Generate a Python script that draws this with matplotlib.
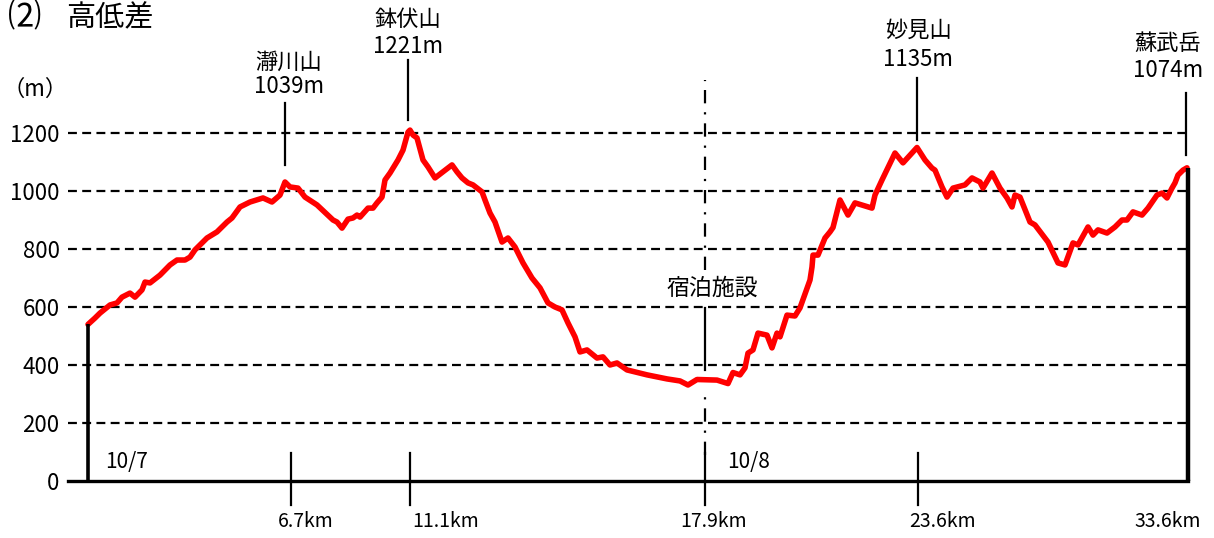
import matplotlib
matplotlib.use("Agg")
import matplotlib.pyplot as plt

plt.rcParams['font.family'] = ['Noto Sans CJK JP', 'DejaVu Sans']

# ---- data (position along chart axis, elevation in m) ----
track_pos = [
    0, 7, 12, 22, 29, 34, 42, 47, 54, 57,
    62, 72, 82, 89, 97, 102, 107, 112, 119, 129,
    139, 144, 152, 162, 175, 184, 192, 197, 200, 202,
    210, 217, 229, 245, 249, 254, 260, 265, 269, 272,
    280, 285, 289, 294, 297, 302, 310, 315, 320, 322,
    325, 329, 335, 340, 347, 355, 364, 369, 374, 380,
    385, 394, 397, 402, 407, 414, 420, 427, 435, 444,
    452, 460, 467, 474, 480, 487, 492, 499, 509, 515,
    522, 529, 539, 559, 579, 592, 600, 609, 629, 640,
    645, 652, 657, 660, 665, 670, 679, 684, 689, 692,
    699, 707, 712, 719, 722, 724, 725, 730, 737, 742,
    745, 752, 760, 767, 784, 787, 794, 807, 815, 829,
    837, 844, 847, 854, 859, 865, 877, 884, 892, 895,
    904, 912, 919, 924, 927, 932, 942, 947, 960, 970,
    977, 985, 990, 1000, 1005, 1010, 1019, 1027, 1034, 1039,
    1045, 1054, 1060, 1069, 1074, 1079, 1084, 1087, 1090, 1095,
    1099,
]
track_elev = [
    540, 562, 579, 607, 614, 634, 648, 634, 659, 686,
    683, 710, 745, 762, 762, 772, 797, 814, 838, 859,
    893, 907, 945, 962, 976, 962, 986, 1031, 1021, 1014,
    1010, 979, 952, 900, 893, 872, 903, 907, 917, 910,
    941, 941, 959, 979, 1038, 1062, 1107, 1141, 1203, 1210,
    1193, 1183, 1107, 1083, 1045, 1066, 1090, 1066, 1045, 1028,
    1021, 997, 969, 924, 893, 824, 838, 807, 752, 700,
    666, 614, 600, 590, 545, 497, 445, 452, 424, 428,
    400, 407, 383, 366, 352, 345, 331, 350, 348, 336,
    374, 366, 390, 441, 452, 510, 503, 459, 510, 497,
    572, 569, 597, 665, 693, 738, 779, 779, 838, 859,
    874, 969, 917, 959, 941, 986, 1038, 1131, 1097, 1150,
    1107, 1079, 1072, 1014, 979, 1010, 1021, 1045, 1031, 1010,
    1062, 1010, 976, 945, 986, 979, 893, 883, 824, 752,
    745, 821, 814, 876, 848, 866, 855, 876, 900, 900,
    928, 917, 941, 986, 993, 976, 1010, 1028, 1055, 1072,
    1080,
]

y_ticks = [0, 200, 400, 600, 800, 1000, 1200]
km_labels = ['6.7km', '11.1km', '17.9km', '23.6km', '33.6km']
km_pos = [203, 322, 617, 830, 1100]
peak_names = ['瀞川山', '鉢伏山', '妙見山', '蘇武岳']
peak_heights = ['1039m', '1221m', '1135m', '1074m']
lodging_label = '宿泊施設'
day_labels = ['10/7', '10/8']

# ---- figure ----
W, H = 1214, 538
fig = plt.figure(figsize=(W / 100, H / 100), dpi=100)
ax = fig.add_axes([68 / W, (H - 481) / H, 1120 / W, 348 / H])
ax.set_xlim(-20, 1100)
ax.set_ylim(0, 1200)

for s in ['top', 'right', 'left']:
    ax.spines[s].set_visible(False)
ax.spines['bottom'].set_linewidth(2.4)
ax.spines['bottom'].set_color('black')
ax.spines['bottom'].set_zorder(5)

ax.set_xticks([])
ax.set_yticks(y_ticks)
ax.set_yticklabels([str(v) for v in y_ticks], fontsize=16)
ax.tick_params(axis='y', length=0, pad=6)

# dashed grid
for v in y_ticks[1:]:
    ax.plot([-20, 1100], [v, v], color='black', lw=1.6,
            linestyle=(0, (4, 2.4)), clip_on=False, zorder=1)

# start / end verticals
ax.plot([0, 0], [0, track_elev[0]], color='black', lw=2.6, zorder=4,
        solid_capstyle='butt')
ax.plot([1100, 1100], [0, track_elev[-1]], color='black', lw=3.2, zorder=4,
        solid_capstyle='butt', clip_on=False)

# profile
ax.plot(track_pos, track_elev, color='#ff0000', lw=4.0, zorder=3,
        solid_joinstyle='round', solid_capstyle='round', clip_on=False)

# km ticks and labels
km_text_pos = [218, 358, 626, 855, 1080]
for p in km_pos[:-1]:
    ax.plot([p, p], [-83, 97], color='black', lw=1.6, clip_on=False, zorder=4)
for lbl, p in zip(km_labels, km_text_pos):
    ax.text(p, -138, lbl, fontsize=14, ha='center', va='center')

# day labels
ax.text(17, 66, day_labels[0], fontsize=15, ha='left', va='center')
ax.text(639, 66, day_labels[1], fontsize=15, ha='left', va='center')

# lodging divider
ax.plot([617, 617], [728, 1383], color='black', lw=1.6,
        linestyle=(0, (6, 4, 1, 4)), clip_on=False, zorder=2)
ax.plot([617, 617], [383, 597], color='black', lw=1.6, clip_on=False, zorder=2)
ax.plot([617, 617], [90, 314], color='black', lw=1.6,
        linestyle=(0, (6, 4, 1, 4)), clip_on=False, zorder=2)
ax.text(624, 666, lodging_label, fontsize=16.5, ha='center', va='center')

# peak annotations
peak_line_x = [197, 320, 829, 1098]
peak_line_y = [(1090, 1303), (1245, 1452), (1176, 1390), (1124, 1338)]
peak_text_x = [201, 320, 830, 1080]
peak_name_y = [1445, 1590, 1555, 1510]
peak_h_y = [1359, 1500, 1455, 1417]
for i in range(4):
    ax.plot([peak_line_x[i]] * 2, peak_line_y[i], color='black', lw=1.6,
            clip_on=False, zorder=4)
    ax.text(peak_text_x[i], peak_name_y[i], peak_names[i], fontsize=16,
            ha='center', va='center')
    ax.text(peak_text_x[i], peak_h_y[i], peak_heights[i], fontsize=16,
            ha='center', va='center')

# title and unit
fig.text(8 / W, 1 - 18 / H, '⑵', fontsize=24, ha='left', va='center')
fig.text(66 / W, 1 - 18 / H, '高低差', fontsize=21, ha='left', va='center')
fig.text(2 / W, 1 - 89 / H, '（m）', fontsize=16, ha='left', va='center')

fig.savefig('out.png', dpi=100)
